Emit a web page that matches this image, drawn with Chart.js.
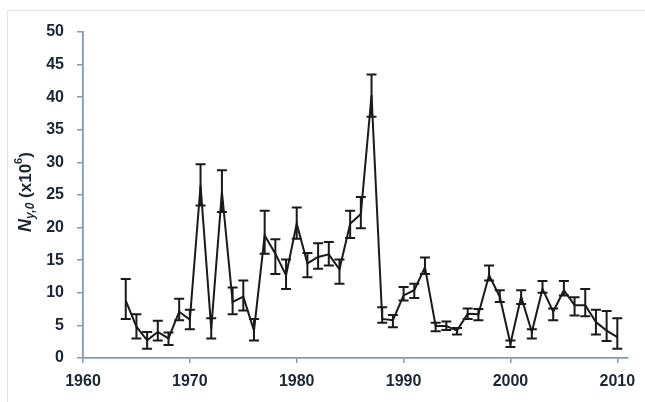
<!DOCTYPE html>
<html>
<head>
<meta charset="utf-8">
<script src="https://cdn.jsdelivr.net/npm/chart.js@4.4.1/dist/chart.umd.min.js"></script>
<style>
    html, body { margin: 0; padding: 0; background: #fff; }
    #wrap { width: 645px; height: 402px; position: relative; }
</style>
</head>
<body>
<div id="wrap"><canvas id="popChart"></canvas></div>
<script>
// Years and values
const years = [1964, 1965, 1966, 1967, 1968, 1969, 1970, 1971, 1972, 1973,
    1974, 1975, 1976, 1977, 1978, 1979, 1980, 1981, 1982, 1983,
    1984, 1985, 1986, 1987, 1988, 1989, 1990, 1991, 1992, 1993,
    1994, 1995, 1996, 1997, 1998, 1999, 2000, 2001, 2002, 2003,
    2004, 2005, 2006, 2007, 2008, 2009, 2010];
const values = [8.8, 4.8, 2.7, 4.0, 3.0, 7.1, 5.9, 26.5, 4.5, 25.5,
    8.6, 9.4, 4.2, 18.8, 16.0, 12.7, 20.6, 14.5, 15.5, 15.9,
    13.6, 20.6, 22.1, 40.3, 6.0, 5.8, 9.6, 10.4, 13.9, 4.9,
    4.9, 4.2, 6.8, 6.7, 12.7, 9.4, 2.2, 9.4, 4.0, 10.6,
    7.1, 10.4, 8.1, 8.1, 5.5, 4.2, 3.2];
const lower = [6.0, 3.0, 1.4, 2.7, 2.0, 5.8, 4.4, 23.4, 3.0, 22.4,
    6.7, 7.3, 2.7, 16.0, 12.9, 10.6, 18.3, 12.4, 13.7, 14.2,
    11.4, 18.4, 19.9, 37.0, 5.4, 4.7, 8.8, 9.2, 12.9, 4.1,
    4.3, 3.6, 6.0, 5.8, 11.9, 8.6, 1.7, 8.3, 3.0, 10.0,
    5.8, 9.6, 6.5, 6.4, 3.6, 2.6, 1.4];
const upper = [12.1, 6.7, 4.0, 5.7, 3.9, 9.1, 7.4, 29.7, 6.1, 28.8,
    10.8, 11.9, 6.0, 22.6, 18.2, 15.1, 23.1, 16.1, 17.6, 17.8,
    15.1, 22.6, 24.7, 43.5, 7.8, 6.6, 10.9, 11.4, 15.4, 5.4,
    5.6, 4.6, 7.6, 7.5, 14.2, 10.4, 2.7, 10.4, 4.4, 11.8,
    7.6, 11.8, 9.3, 10.6, 7.4, 7.2, 6.1];
const xTicks = [1960, 1970, 1980, 1990, 2000, 2010];
const yTicks = [0, 5, 10, 15, 20, 25, 30, 35, 40, 45, 50];

const inkColor = '#1a1a1a';
const labelColor = '#1b2535';
const axisColor = '#7f9bb8';
const fontFamily = '"Liberation Sans", Arial, sans-serif';

// Faint frame round the picture
const framePlugin = {
    id: 'frame',
    beforeDraw(chart) {
        const ctx = chart.ctx;
        ctx.save();
        ctx.fillStyle = '#fff';
        ctx.fillRect(0, 0, chart.width, chart.height);
        ctx.strokeStyle = '#e4e4e4';
        ctx.lineWidth = 1;
        ctx.beginPath();
        ctx.moveTo(7.5, chart.height);
        ctx.lineTo(7.5, 10.5);
        ctx.lineTo(chart.width, 10.5);
        ctx.stroke();
        ctx.restore();
    }
};

// Error bars with caps
const errorBarPlugin = {
    id: 'errorBars',
    afterDatasetsDraw(chart) {
        const ctx = chart.ctx;
        const yScale = chart.scales.y;
        const meta = chart.getDatasetMeta(0);
        ctx.save();
        ctx.strokeStyle = inkColor;
        ctx.lineWidth = 2;
        meta.data.forEach((pt, i) => {
            const x = pt.x;
            const yTop = yScale.getPixelForValue(upper[i]);
            const yBot = yScale.getPixelForValue(lower[i]);
            ctx.beginPath();
            ctx.moveTo(x, yTop);
            ctx.lineTo(x, yBot);
            ctx.moveTo(x - 5, yTop);
            ctx.lineTo(x + 5, yTop);
            ctx.moveTo(x - 5, yBot);
            ctx.lineTo(x + 5, yBot);
            ctx.stroke();
        });
        ctx.restore();
    }
};

// Y axis title with italic N, subscript y,0 and superscript 6
const yTitlePlugin = {
    id: 'yTitle',
    afterDraw(chart) {
        const ctx = chart.ctx;
        const area = chart.chartArea;
        const parts = [
            { text: 'N', font: 'italic bold 18px ' + fontFamily, dy: 0 },
            { text: 'y,0', font: 'italic bold 12px ' + fontFamily, dy: 5 },
            { text: ' (x10', font: 'bold 17px ' + fontFamily, dy: 0 },
            { text: '6', font: 'bold 11px ' + fontFamily, dy: -7 },
            { text: ')', font: 'bold 17px ' + fontFamily, dy: 0 }
        ];
        let total = 0;
        parts.forEach(p => {
            ctx.font = p.font;
            p.w = ctx.measureText(p.text).width;
            total += p.w;
        });
        ctx.save();
        ctx.translate(26, (area.top + area.bottom) / 2 - 3);
        ctx.rotate(-Math.PI / 2);
        ctx.fillStyle = labelColor;
        ctx.textBaseline = 'middle';
        let x = -total / 2;
        parts.forEach(p => {
            ctx.font = p.font;
            ctx.fillText(p.text, x, p.dy);
            x += p.w;
        });
        ctx.restore();
    }
};

const ctx = document.getElementById('popChart');
new Chart(ctx, {
    type: 'line',
    data: {
        datasets: [{
            data: years.map((yr, i) => ({ x: yr, y: values[i] })),
            borderColor: inkColor,
            borderWidth: 2,
            pointRadius: 0,
            tension: 0,
            fill: false
        }]
    },
    options: {
        responsive: true,
        maintainAspectRatio: false,
        animation: false,
        layout: {
            padding: { left: 0, right: 17, top: 32, bottom: 0 }
        },
        plugins: {
            legend: { display: false },
            tooltip: { enabled: false }
        },
        scales: {
            x: {
                type: 'linear',
                min: 1960,
                max: 2011,
                afterBuildTicks: scale => {
                    scale.ticks = xTicks.map(v => ({ value: v }));
                },
                afterFit: scale => {
                    scale.height = 402 - 358;
                },
                grid: {
                    display: true,
                    drawOnChartArea: false,
                    drawTicks: true,
                    tickLength: 5,
                    color: axisColor,
                    lineWidth: 1.5
                },
                border: { display: true, color: axisColor, width: 1.8 },
                ticks: {
                    color: labelColor,
                    padding: 9,
                    maxRotation: 0,
                    font: { family: fontFamily, size: 16, weight: 'bold' },
                    callback: v => String(v)
                }
            },
            y: {
                min: 0,
                max: 50,
                afterBuildTicks: scale => {
                    scale.ticks = yTicks.map(v => ({ value: v }));
                },
                afterFit: scale => {
                    scale.width = 83;
                },
                grid: {
                    display: true,
                    drawOnChartArea: false,
                    drawTicks: true,
                    tickLength: 6,
                    color: axisColor,
                    lineWidth: 1.5
                },
                border: { display: true, color: axisColor, width: 1.8 },
                ticks: {
                    color: labelColor,
                    padding: 13,
                    font: { family: fontFamily, size: 16, weight: 'bold' }
                }
            }
        }
    },
    plugins: [framePlugin, errorBarPlugin, yTitlePlugin]
});
</script>
</body>
</html>
